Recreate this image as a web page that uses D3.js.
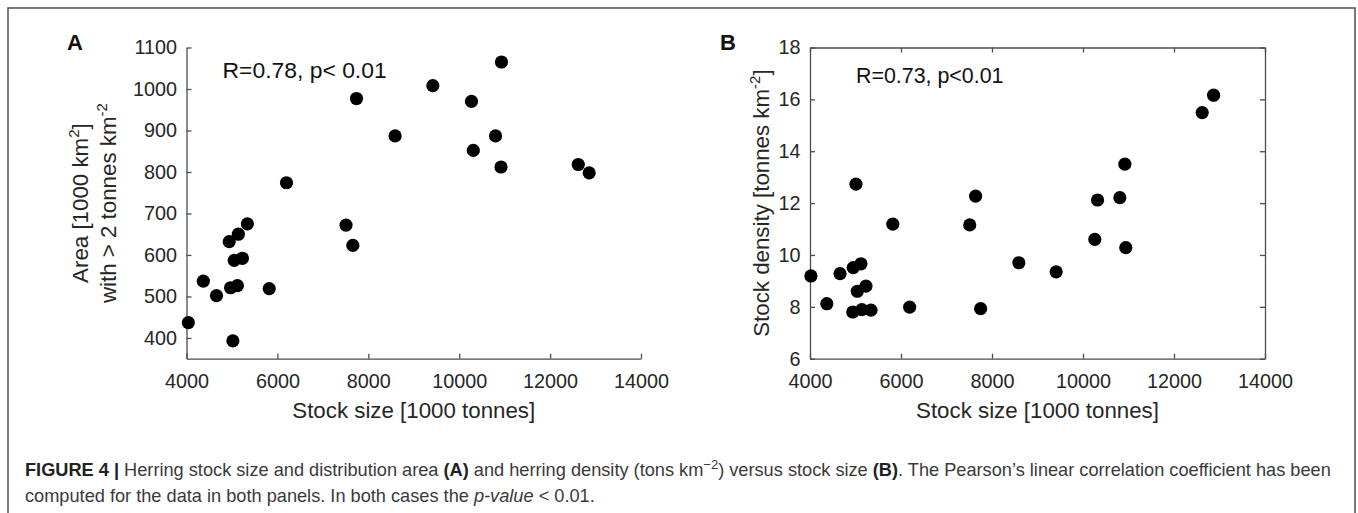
<!DOCTYPE html>
<html>
<head>
<meta charset="utf-8">
<script src="https://cdn.jsdelivr.net/npm/d3@7"></script>
<style>
  body { margin: 0; background: #fff; }
  svg text { font-family: "Liberation Sans", Arial, sans-serif; }
</style>
</head>
<body>
<div class="chart"></div>
<script>
var width = 1358;
var height = 513;

// panel A: stock size vs area with > 2 tonnes km-2
var stockA = [4040, 4370, 4660, 4940, 4970, 5020, 5050, 5120, 5140, 5230, 5340, 5820, 6200,
              7510, 7660, 7740, 8590, 9420, 10270, 10310, 10800, 10920, 10930, 12620, 12860];
var areaA  = [437, 537, 502, 632, 521, 393, 587, 526, 650, 592, 675, 519, 774,
              672, 623, 977, 887, 1008, 970, 852, 887, 812, 1065, 818, 798];

// panel B: stock size vs stock density
var stockB   = [4020, 4370, 4660, 4940, 4950, 5010, 5040, 5120, 5140, 5230, 5340, 5820, 6190,
                7510, 7640, 7750, 8590, 9410, 10260, 10320, 10810, 10920, 10940, 12620, 12870];
var densityB = [9.19, 8.12, 9.28, 7.80, 9.51, 12.73, 8.60, 9.66, 7.89, 8.80, 7.87, 11.19, 7.99,
                11.16, 12.27, 7.93, 9.70, 9.35, 10.60, 12.12, 12.21, 13.50, 10.28, 15.49, 16.16];

var xTicks  = [4000, 6000, 8000, 10000, 12000, 14000];
var yTicksA = [400, 500, 600, 700, 800, 900, 1000, 1100];
var yTicksB = [6, 8, 10, 12, 14, 16, 18];

var axisColor = '#4d4d4d';
var textColor = '#262626';
var tickLen = 5;

var svg = d3.select('.chart').append('svg')
    .attr('width', width)
    .attr('height', height);

// outer frame of the figure (bottom edge runs off the picture)
svg.append('rect')
    .attr('x', 8).attr('y', 8)
    .attr('width', 1347).attr('height', 530)
    .attr('fill', 'none')
    .attr('stroke', '#5a5a5a')
    .attr('stroke-width', 1.6);

// note: "top" is taken by window.top, so use other names
var plotTop = 47.5, plotBottom = 358.7;

function drawPanel(opt) {
    var x = d3.scaleLinear().domain([4000, 14000]).range([opt.left, opt.right]);
    var y = d3.scaleLinear().domain(opt.yDomain).range([plotBottom, plotTop]);

    var g = svg.append('g');

    // ticks point inwards like matlab
    var xAxis = d3.axisBottom(x).tickValues(xTicks).tickSizeInner(-tickLen).tickSizeOuter(0)
        .tickFormat(d3.format('d'));
    var yAxis = d3.axisLeft(y).tickValues(opt.yTicks).tickSizeInner(-tickLen).tickSizeOuter(0)
        .tickPadding(9.5).tickFormat(d3.format('d'));

    var gx = g.append('g').attr('transform', 'translate(0,' + plotBottom + ')').call(xAxis);
    var gy = g.append('g').attr('transform', 'translate(' + opt.left + ',0)').call(yAxis);

    if (opt.box) {
        g.append('g').attr('transform', 'translate(0,' + plotTop + ')')
            .call(d3.axisTop(x).tickValues(xTicks).tickSizeInner(-tickLen).tickSizeOuter(0).tickFormat(''));
        g.append('g').attr('transform', 'translate(' + opt.right + ',0)')
            .call(d3.axisRight(y).tickValues(opt.yTicks).tickSizeInner(-tickLen).tickSizeOuter(0).tickFormat(''));
    }

    g.selectAll('.domain').attr('stroke', axisColor).attr('stroke-width', 1.3);
    g.selectAll('.tick line').attr('stroke', axisColor).attr('stroke-width', 1.3);
    g.selectAll('.tick text')
        .attr('font-size', 19.8)
        .attr('fill', textColor);
    gx.selectAll('.tick text').attr('dy', '0.32em').attr('y', 22.5);

    // points
    g.selectAll('circle')
        .data(opt.xs)
        .enter()
        .append('circle')
            .attr('cx', function (d) { return x(d); })
            .attr('cy', function (d, i) { return y(opt.ys[i]); })
            .attr('r', 6.6)
            .attr('fill', '#000');

    // x title
    g.append('text')
        .attr('x', (opt.left + opt.right) / 2)
        .attr('y', 417.5)
        .attr('text-anchor', 'middle')
        .attr('font-size', 22.3)
        .attr('fill', textColor)
        .text('Stock size [1000 tonnes]');

    // correlation note
    g.append('text')
        .attr('x', opt.rx)
        .attr('y', opt.ry)
        .attr('font-size', opt.rSize)
        .attr('fill', '#111')
        .text(opt.rText);

    // panel letter
    g.append('text')
        .attr('x', opt.letterX)
        .attr('y', 50)
        .attr('text-anchor', 'middle')
        .attr('font-size', 22)
        .attr('font-weight', 'bold')
        .attr('fill', '#111')
        .text(opt.letter);

    return g;
}

var gA = drawPanel({
    left: 186.5, right: 641, yDomain: [350, 1100], yTicks: yTicksA,
    xs: stockA, ys: areaA, box: false,
    rText: 'R=0.78, p< 0.01', rx: 222.5, ry: 77.5, rSize: 22.9,
    letter: 'A', letterX: 75
});

var gB = drawPanel({
    left: 810, right: 1265, yDomain: [6, 18], yTicks: yTicksB,
    xs: stockB, ys: densityB, box: true,
    rText: 'R=0.73, p<0.01', rx: 856, ry: 83, rSize: 21.4,
    letter: 'B', letterX: 728
});

// rotated y titles, with superscripts
function yTitle(xPos, parts) {
    var t = svg.append('text')
        .attr('transform', 'translate(' + xPos + ',' + ((plotTop + plotBottom) / 2) + ') rotate(-90)')
        .attr('text-anchor', 'middle')
        .attr('font-size', 22.3)
        .attr('fill', textColor);
    parts.forEach(function (p) {
        var s = t.append('tspan').text(p.t);
        if (p.sup) {
            s.attr('font-size', 15).attr('dy', -9);
        }
        if (p.down) {
            s.attr('dy', 9);
        }
    });
}

yTitle(88, [{t: 'Area [1000 km'}, {t: '2', sup: true}, {t: ']', down: true}]);
yTitle(116, [{t: 'with > 2 tonnes km'}, {t: '-2', sup: true}]);
yTitle(768.5, [{t: 'Stock density [tonnes km'}, {t: '-2', sup: true}, {t: ']', down: true}]);

// caption under the panels
var capColor = '#3a3a3a';
var cap1 = svg.append('text')
    .attr('x', 25).attr('y', 476)
    .attr('font-size', 18.2)
    .attr('fill', capColor);

var line1 = [
    {t: 'FIGURE 4 |', b: true},
    {t: ' Herring stock size and distribution area '},
    {t: '(A)', b: true},
    {t: ' and herring density (tons km'},
    {t: '\u22122', sup: true},
    {t: ')', down: true},
    {t: ' versus stock size '},
    {t: '(B)', b: true},
    {t: '. The Pearson\u2019s linear correlation coefficient has been'}
];
line1.forEach(function (p) {
    var s = cap1.append('tspan').text(p.t);
    if (p.b) { s.attr('font-weight', 'bold').attr('fill', '#222'); }
    if (p.sup) { s.attr('font-size', 13).attr('dy', -7); }
    if (p.down) { s.attr('dy', 7); }
});

var cap2 = svg.append('text')
    .attr('x', 25).attr('y', 502)
    .attr('font-size', 18.2)
    .attr('fill', capColor);
cap2.append('tspan').text('computed for the data in both panels. In both cases the ');
cap2.append('tspan').attr('font-style', 'italic').text('p-value');
cap2.append('tspan').text(' < 0.01.');
</script>
</body>
</html>
